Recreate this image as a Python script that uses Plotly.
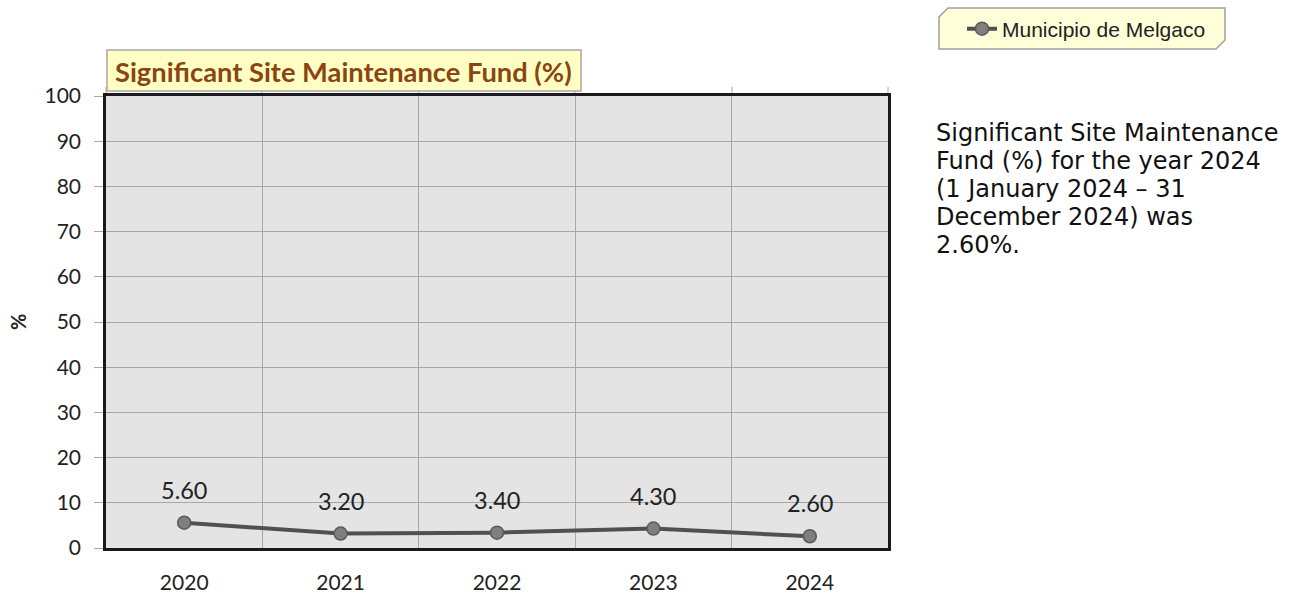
import plotly.graph_objects as go

# Data
years = ["2020", "2021", "2022", "2023", "2024"]
values = [5.60, 3.20, 3.40, 4.30, 2.60]
series_name = "Municipio de Melgaco"
chart_title = "Significant Site Maintenance Fund (%)"
y_title = "%"
y_ticks = [0, 10, 20, 30, 40, 50, 60, 70, 80, 90, 100]
summary_lines = [
    "Significant Site Maintenance",
    "Fund (%) for the year 2024",
    "(1 January 2024 \u2013 31",
    "December 2024) was",
    "2.60%.",
]

W, H = 1291, 599
L, R, T, B = 106, 888, 96, 548  # plot area in pixels


def px(x):
    return (x - L) / (R - L)


def py(y):
    return (B - y) / (B - T)


fig = go.Figure()
fig.add_trace(go.Scatter(
    x=years, y=values, mode="lines+markers", name=series_name,
    line=dict(color="#505050", width=4),
    marker=dict(size=13, color="#7f7f7f", line=dict(color="#5a5a5a", width=1.5)),
    showlegend=True,
))

# value labels above each point (category index on the x axis)
for i, v in enumerate(values):
    fig.add_annotation(x=i, y=v, xref="x", yref="y", text=f"{v:.2f}", showarrow=False,
                       yshift=33, font=dict(family="Lato", size=23.5, color="#222"))

shapes = []
# title box
shapes.append(dict(type="rect", xref="paper", yref="paper",
                   x0=px(107), x1=px(581), y0=py(91), y1=py(50),
                   fillcolor="#FFFFC4", line=dict(color="#A8A8A8", width=1.5), layer="above"))
# vertical gridline stubs above the frame
for bx in [L, 262, 419, 575, 732, R]:
    shapes.append(dict(type="line", xref="paper", yref="paper",
                       x0=px(bx), x1=px(bx), y0=py(T), y1=py(87),
                       line=dict(color="#A8A8A8", width=1), layer="below"))
# legend box with clipped corners
lx0, lx1, ly0, ly1, c = 939, 1225, 8, 49, 9
path = (f"M {px(lx0)} {py(ly0 + c)} L {px(lx0 + c)} {py(ly0)} L {px(lx1)} {py(ly0)} "
        f"L {px(lx1)} {py(ly1 - c)} L {px(lx1 - c)} {py(ly1)} L {px(lx0)} {py(ly1)} Z")
shapes.append(dict(type="path", xref="paper", yref="paper", path=path,
                   fillcolor="#FFFFD8", line=dict(color="#A0A0A0", width=1.5), layer="below"))

fig.add_annotation(xref="paper", yref="paper", x=px(113), y=py(71),
                   xanchor="left", yanchor="middle", showarrow=False,
                   text=f"<b>{chart_title}</b>",
                   font=dict(family="Lato", size=27.3, color="#8B4513"))

# rotated y-axis title
fig.add_annotation(xref="paper", yref="paper", x=px(18), y=py(322),
                   xanchor="center", yanchor="middle", showarrow=False, textangle=-90,
                   text=f"<b>{y_title}</b>",
                   font=dict(family="Lato", size=20, color="#222"))

# summary text at the right, one line per annotation for a fixed line pitch
for k, line in enumerate(summary_lines):
    fig.add_annotation(xref="paper", yref="paper", x=px(934), y=py(133 + 28 * k),
                       xanchor="left", yanchor="middle", align="left", showarrow=False,
                       text=line,
                       font=dict(family="DejaVu Sans", size=24, color="#111"))

fig.update_layout(
    width=W, height=H,
    margin=dict(l=L, r=W - R, t=T, b=H - B, autoexpand=False),
    paper_bgcolor="white",
    plot_bgcolor="#E4E4E4",
    shapes=shapes,
    legend=dict(x=px(962), y=py(29), xanchor="left", yanchor="middle",
                bgcolor="rgba(0,0,0,0)", borderwidth=0,
                font=dict(family="Liberation Sans", size=21, color="#222")),
    font=dict(family="Lato", color="#222"),
)
fig.update_xaxes(
    type="category", tickson="boundaries", range=[-0.5, 4.5], automargin=False,
    showgrid=True, gridcolor="#A8A8A8", gridwidth=1,
    showline=True, linecolor="#1a1a1a", linewidth=2.5, mirror=True,
    ticks="", ticklabelstandoff=14,
    tickfont=dict(family="Lato", size=21, color="#222"),
)
fig.update_yaxes(
    range=[0, 100], tickvals=y_ticks, automargin=False,
    showgrid=True, gridcolor="#A8A8A8", gridwidth=1,
    showline=True, linecolor="#1a1a1a", linewidth=2.5, mirror=True,
    ticks="outside", ticklen=9, tickcolor="#A8A8A8",
    ticklabelstandoff=9, zeroline=False,
    tickfont=dict(family="Lato", size=21, color="#222"),
)

fig.write_html("out.html")
